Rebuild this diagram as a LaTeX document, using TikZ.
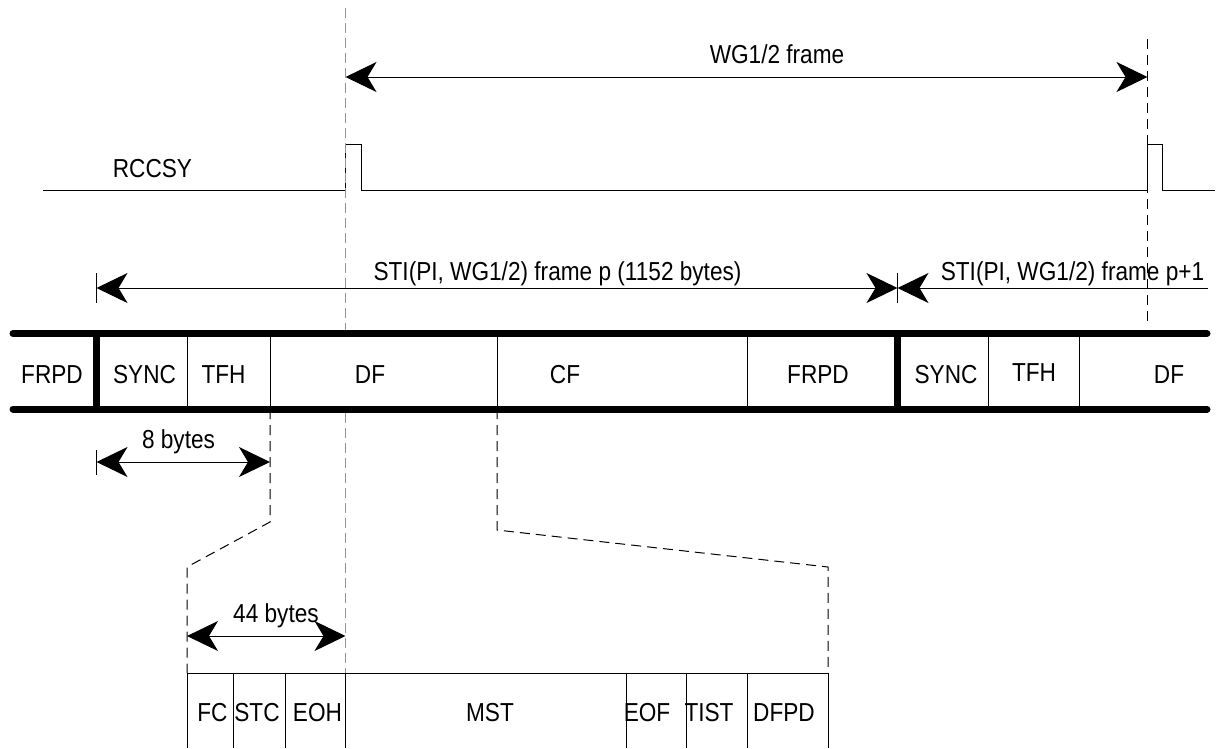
\documentclass[tikz,border=0pt]{standalone}
\usepackage{fontspec}
\setmainfont{Liberation Sans}[FakeStretch=0.87]
\usetikzlibrary{arrows.meta}
\begin{document}
\begin{tikzpicture}[x=1pt,y=-1pt,
  >={Stealth[length=31pt,width=30pt,inset=9pt]},
  lbl/.style={font=\fontsize{26}{30}\selectfont, inner sep=0pt, anchor=base},
  ln/.style={line width=1pt},
  dsh/.style={line width=1pt, dash pattern=on 10pt off 6pt},
  gdsh/.style={line width=1.5pt, gray!85, dash pattern=on 10pt off 5pt},
  barline/.style={line width=7pt, line cap=round},
  septhick/.style={line width=7pt},
  septhin/.style={line width=1pt}]
\useasboundingbox (0,0) rectangle (1218,748);

% ---- WG1/2 frame ----
\coordinate (wgL) at (345.5,77);
\coordinate (wgR) at (1147.5,77);
\draw[ln,<->] (wgL) -- (wgR);
\node[lbl] (wg) at (777,63) {WG1/2 frame};

% ---- RCCSY ----
\draw[ln] (43,190) -- (345.5,190) -- (345.5,144.5) -- (361,144.5) -- (361,190)
  -- (1147.5,190) -- (1147.5,144.5) -- (1162,144.5) -- (1162,190) -- (1215,190);
\node[lbl] (rccsy) at (152.5,177) {RCCSY};

% ---- dashed reference lines ----
\draw[gdsh] (345.5,8) -- (345.5,330);
\draw[gdsh] (345.5,413) -- (345.5,673);
\draw[dsh] (1147.5,39) -- (1147.5,322);

% ---- STI frames ----
\coordinate (stiA) at (96.5,288);
\coordinate (stiB) at (897.5,288);
\coordinate (stiC) at (1208,288);
\draw[ln,<->] (stiA) -- (stiB);
\draw[ln,<-] (stiB) -- (stiC);
\draw[ln] (96.5,273) -- (96.5,303);
\draw[ln] (897.5,273) -- (897.5,303);
\node[lbl] (stip) at (557.5,280) {STI(PI, WG1/2) frame p (1152 bytes)};
\node[lbl] (stip1) at (1072.5,280) {STI(PI, WG1/2) frame p+1};

% ---- frame bar ----
\draw[barline] (13,333.5) -- (1207,333.5);
\draw[barline] (13,409) -- (1207,409);
\draw[septhick] (96.5,333.5) -- (96.5,409);
\draw[septhick] (897.5,333.5) -- (897.5,409);
\foreach \x in {187,270,497,747,988,1079}
  \draw[septhin] (\x,333.5) -- (\x,409);
\node[lbl] (frpd1) at (52,383) {FRPD};
\node[lbl] (sync1) at (144.5,383) {SYNC};
\node[lbl] (tfh1) at (223.5,383) {TFH};
\node[lbl] (df1) at (370,383) {DF};
\node[lbl] (cf) at (565,383) {CF};
\node[lbl] (frpd2) at (818,383) {FRPD};
\node[lbl] (sync2) at (946,383) {SYNC};
\node[lbl] (tfh2) at (1034,381) {TFH};
\node[lbl] (df2) at (1169,383) {DF};

% ---- 8 bytes ----
\coordinate (eA) at (96.5,462);
\coordinate (eB) at (270,462);
\draw[ln,<->] (eA) -- (eB);
\draw[ln] (96.5,450) -- (96.5,475);
\node[lbl] (eight) at (178.5,448) {8 bytes};

% ---- expansion lines ----
\draw[dsh] (270,409) -- (270,522) -- (187,567) -- (187,673);
\draw[dsh] (497,409) -- (497,530) -- (828,567) -- (828,673);

% ---- 44 bytes ----
\coordinate (fA) at (187,636);
\coordinate (fB) at (345.5,636);
\draw[ln,<->] (fA) -- (fB);
\node[lbl] (ff) at (276,622.5) {44 bytes};

% ---- DF structure ----
\draw[ln] (187,748) -- (187,673) -- (828,673) -- (828,748);
\foreach \x in {233,285,626,686,747}
  \draw[septhin] (\x,673) -- (\x,748);
\draw[line width=1.5pt] (345.5,673) -- (345.5,748);
\node[lbl] (fc) at (212.5,721.5) {FC};
\node[lbl] (stc) at (257,721.5) {STC};
\node[lbl] (eoh) at (317.5,721.5) {EOH};
\node[lbl] (mst) at (490,721.5) {MST};
\node[lbl] (eof) at (647,721.5) {EOF};
\node[lbl] (tist) at (709,721.5) {TIST};
\node[lbl] (dfpd) at (784,721.5) {DFPD};
\end{tikzpicture}
\end{document}
